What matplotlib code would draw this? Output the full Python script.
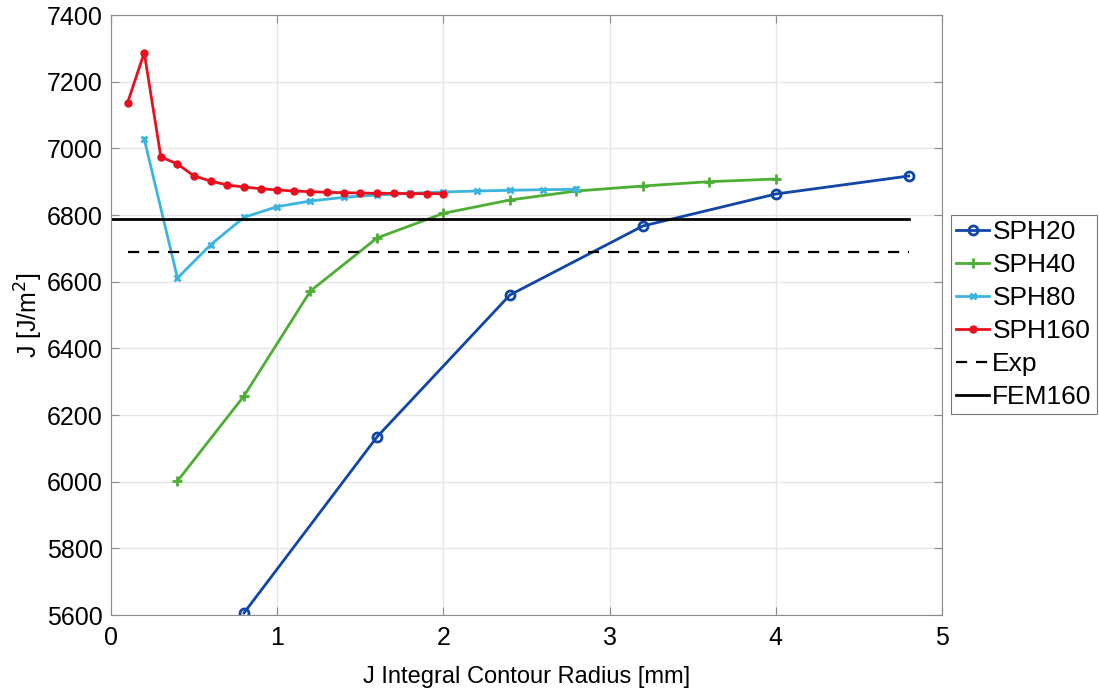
import numpy as np
import matplotlib.pyplot as plt

plt.rcParams['font.family'] = ['Liberation Sans', 'DejaVu Sans']

# contour radius [mm] and J [J/m^2]
r20 = [0.8, 1.6, 2.4, 3.2, 4.0, 4.8]
j20 = [5606, 6134, 6560, 6767, 6863, 6917]

r40 = [0.4, 0.8, 1.2, 1.6, 2.0, 2.4, 2.8, 3.2, 3.6, 4.0]
j40 = [6002, 6257, 6572, 6731, 6805, 6845, 6872, 6887, 6900, 6908]

r80 = [0.2, 0.4, 0.6, 0.8, 1.0, 1.2, 1.4, 1.6, 1.8, 2.0, 2.2, 2.4, 2.6, 2.8]
j80 = [7028, 6611, 6711, 6793, 6825, 6842, 6853, 6860, 6865, 6869, 6872, 6874, 6876, 6877]

r160 = [0.1, 0.2, 0.3, 0.4, 0.5, 0.6, 0.7, 0.8, 0.9, 1.0,
        1.1, 1.2, 1.3, 1.4, 1.5, 1.6, 1.7, 1.8, 1.9, 2.0]
j160 = [7137, 7287, 6974, 6953, 6917, 6902, 6890, 6884, 6879, 6875,
        6872, 6870, 6868, 6867, 6866, 6865, 6865, 6864, 6864, 6864]

j_exp = 6689
j_fem = 6788

fig = plt.figure(figsize=(10.99, 6.91), dpi=100)
ax = fig.add_axes([111/1099, 1-615/691, (942-111)/1099, 600/691])

ax.plot(r20, j20, '-o', color='#1046A8', lw=2, ms=6.5, mfc='none', mew=2, label='SPH20')
ax.plot(r40, j40, '-+', color='#4DAE34', lw=2, ms=6.5, mew=2, label='SPH40')
ax.plot(r80, j80, '-x', color='#3BB5E0', lw=2, ms=4, mew=2, label='SPH80')
ax.plot(r160, j160, '-o', color='#E8101E', lw=2, ms=5, label='SPH160')
ax.plot([0.1, 4.8], [j_exp, j_exp], '--', color='black', lw=1.6, dashes=(5, 4), label='Exp')
ax.plot([0, 4.8], [j_fem, j_fem], '-', color='black', lw=2, label='FEM160')

ax.set_xlim(0, 5)
ax.set_ylim(5600, 7400)
ax.set_xticks(np.arange(0, 5.1, 1))
ax.set_yticks(np.arange(5600, 7401, 200))
ax.grid(True, color='#e6e6e6', lw=1)
ax.set_axisbelow(True)
for s in ax.spines.values():
    s.set_color('#8c8c8c')
ax.tick_params(direction='in', length=6, color='#8c8c8c', labelsize=18,
               top=True, right=True)
ax.tick_params(axis='y', pad=6)
ax.tick_params(axis='x', pad=8)
ax.set_xlabel('J Integral Contour Radius [mm]', fontsize=17)
ax.set_ylabel('J [J/m$^2$]', fontsize=18)
ax.xaxis.set_label_coords(0.5, -0.103)
ax.xaxis.label.set_va('center')
ax.yaxis.set_label_coords(-0.099, 0.5)
ax.yaxis.label.set_va('center')

leg = ax.legend(loc='upper right', bbox_to_anchor=(1097/1099, 1 - 215/691),
                bbox_transform=fig.transFigure,
                fontsize=19, frameon=True, fancybox=False, edgecolor='#555555',
                handlelength=1.25, handletextpad=0.12, borderpad=0.2,
                labelspacing=0.34, borderaxespad=0)
leg.get_frame().set_linewidth(0.8)

fig.savefig('out.png', dpi=100)
